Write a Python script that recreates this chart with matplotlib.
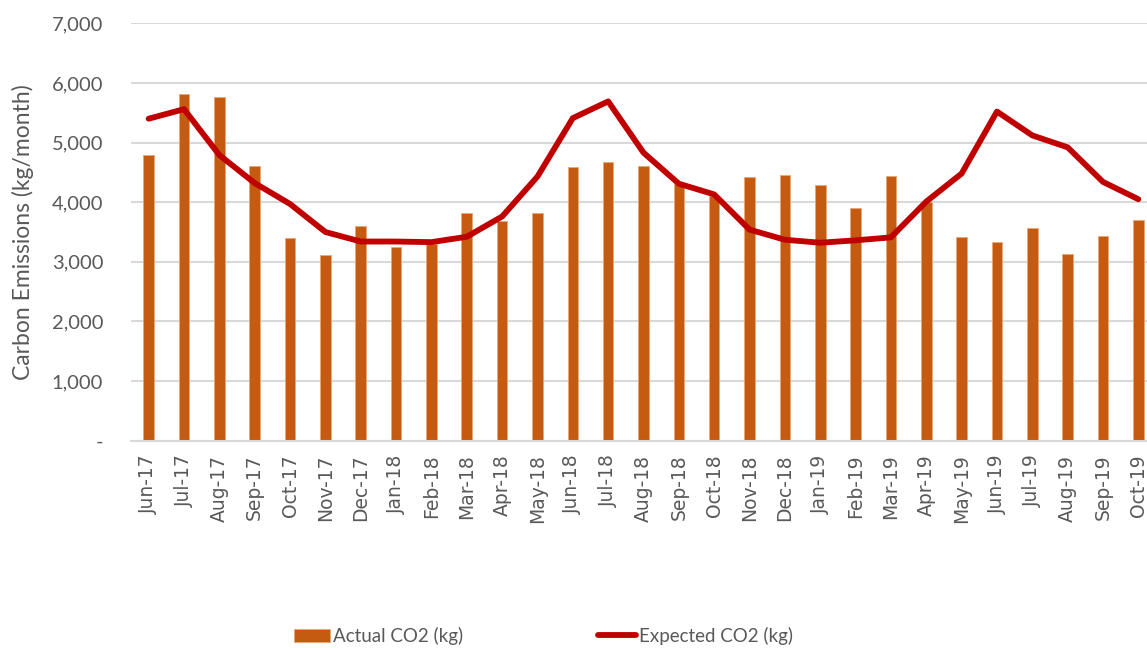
import matplotlib
matplotlib.use("Agg")
import matplotlib.pyplot as plt
from matplotlib.ticker import FuncFormatter
import numpy as np

months = ["Jun-17", "Jul-17", "Aug-17", "Sep-17", "Oct-17", "Nov-17", "Dec-17",
          "Jan-18", "Feb-18", "Mar-18", "Apr-18", "May-18", "Jun-18", "Jul-18",
          "Aug-18", "Sep-18", "Oct-18", "Nov-18", "Dec-18", "Jan-19", "Feb-19",
          "Mar-19", "Apr-19", "May-19", "Jun-19", "Jul-19", "Aug-19", "Sep-19", "Oct-19"]

actual_co2 = [4790, 5820, 5760, 4600, 3400, 3110, 3600,
              3250, 3300, 3820, 3690, 3820, 4590, 4670,
              4600, 4300, 4100, 4430, 4450, 4280, 3900,
              4440, 4010, 3420, 3340, 3560, 3130, 3430, 3700]

expected_co2 = [5400, 5560, 4790, 4320, 3970, 3500, 3340,
                3340, 3330, 3420, 3760, 4430, 5410, 5690,
                4830, 4310, 4130, 3540, 3370, 3320, 3360,
                3410, 4010, 4480, 5520, 5120, 4920, 4340, 4050]

yticks = [0, 1000, 2000, 3000, 4000, 5000, 6000, 7000]

BAR = "#C55A11"
LINE = "#C00000"
GRAY = "#595959"
GRID = "#D9D9D9"

plt.rcParams["font.family"] = ["DejaVu Sans"]

W, H = 1147, 648
fig = plt.figure(figsize=(W / 100, H / 100), dpi=100)
ax = fig.add_axes([131/W, 1 - 440.7/H, (1156 - 131)/W, (440.7 - 23.3)/H])

x = np.arange(len(months))
bars = ax.bar(x, actual_co2, width=0.30, color=BAR, edgecolor="#E8A878", linewidth=0.6,
              label="Actual CO2 (kg)", zorder=2)
line, = ax.plot(x, expected_co2, color=LINE, linewidth=4.2, solid_capstyle="round",
                solid_joinstyle="round", label="Expected CO2 (kg)", zorder=3)

ax.set_xlim(-0.5, len(months) - 0.5)
ax.set_ylim(0, 7000)
ax.set_yticks(yticks)
ax.yaxis.set_major_formatter(FuncFormatter(lambda v, p: "-" if v == 0 else f"{int(v):,}"))
ax.set_xticks(x)
ax.set_xticklabels(months, rotation=90, fontsize=13.5, color=GRAY, family="DejaVu Sans")
for lab in ax.get_yticklabels():
    lab.set_family("Lato")
    lab.set_fontsize(14.5)
    lab.set_color(GRAY)

ax.tick_params(axis="y", length=0, pad=20)
ax.tick_params(axis="x", length=0, pad=10)
ax.grid(axis="y", color=GRID, linewidth=1.5, zorder=0)
ax.set_axisbelow(True)
for s in ["top", "right", "left"]:
    ax.spines[s].set_visible(False)
ax.spines["bottom"].set_color(GRID)
ax.spines["bottom"].set_linewidth(1.5)

ax.set_ylabel("Carbon Emissions (kg/month)", fontsize=16.5, color=GRAY, family="Lato")
ax.yaxis.set_label_coords((34 - 131) / 1025, 0.5)

common = dict(frameon=False, prop={"family": "Lato", "size": 13.5}, labelcolor=GRAY,
              handletextpad=0.2, borderpad=0, borderaxespad=0, loc="center left")
leg1 = fig.legend([bars], ["Actual CO2 (kg)"], bbox_to_anchor=(294/W, 1 - 636/H),
                  handlelength=1.9, handleheight=0.75, **common)
leg2 = fig.legend([line], ["Expected CO2 (kg)"], bbox_to_anchor=(598/W, 1 - 636/H),
                  handlelength=2.0, **common)

fig.savefig("out.png", dpi=100)
